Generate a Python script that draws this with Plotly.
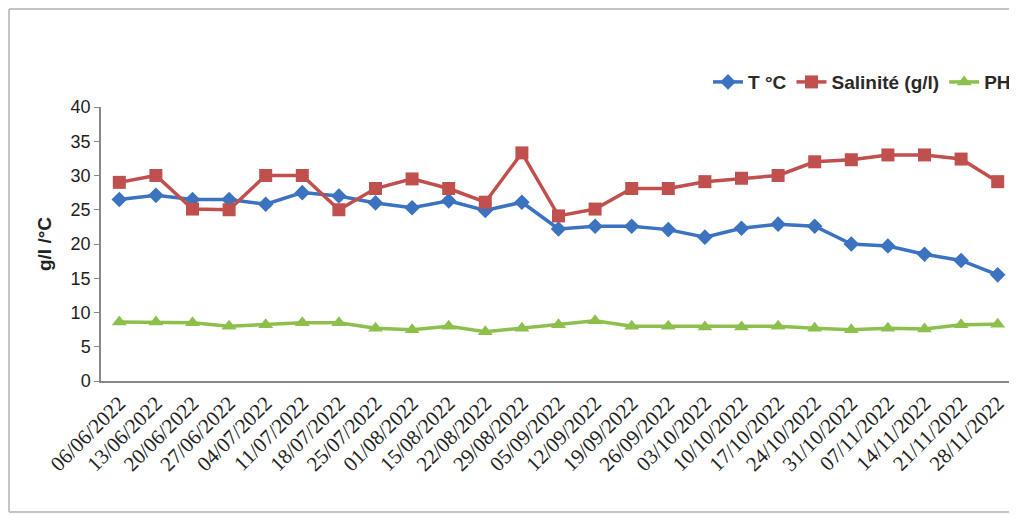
import plotly.graph_objects as go

dates = ["06/06/2022", "13/06/2022", "20/06/2022", "27/06/2022", "04/07/2022",
         "11/07/2022", "18/07/2022", "25/07/2022", "01/08/2022", "15/08/2022",
         "22/08/2022", "29/08/2022", "05/09/2022", "12/09/2022", "19/09/2022",
         "26/09/2022", "03/10/2022", "10/10/2022", "17/10/2022", "24/10/2022",
         "31/10/2022", "07/11/2022", "14/11/2022", "21/11/2022", "28/11/2022"]

temperature = [26.5, 27.1, 26.5, 26.5, 25.8, 27.5, 27.0, 26.0, 25.3, 26.3,
               24.9, 26.1, 22.2, 22.6, 22.6, 22.1, 21.0, 22.3, 22.9, 22.6,
               20.0, 19.7, 18.5, 17.6, 15.5]

salinite = [29.0, 30.0, 25.1, 25.0, 30.0, 30.0, 25.0, 28.1, 29.5, 28.1,
            26.1, 33.3, 24.1, 25.1, 28.1, 28.1, 29.1, 29.6, 30.0, 32.0,
            32.3, 33.0, 33.0, 32.4, 29.1]

ph = [8.6, 8.6, 8.5, 8.0, 8.2, 8.5, 8.5, 7.7, 7.5, 8.0,
      7.2, 7.7, 8.2, 8.8, 8.0, 8.0, 7.9, 7.9, 8.0, 7.7,
      7.5, 7.7, 7.6, 8.2, 8.3]

y_ticks = [0, 5, 10, 15, 20, 25, 30, 35, 40]

fig = go.Figure()
fig.add_trace(go.Scatter(x=dates, y=temperature, name="T °C", mode="lines+markers",
                         line=dict(color="#3b73c0", width=3.5),
                         marker=dict(symbol="diamond", size=12, color="#3b73c0")))
fig.add_trace(go.Scatter(x=dates, y=salinite, name="Salinité (g/l)", mode="lines+markers",
                         line=dict(color="#c0504d", width=3.5),
                         marker=dict(symbol="square", size=13, color="#c0504d")))
fig.add_trace(go.Scatter(x=dates, y=ph, name="PH", mode="lines+markers",
                         line=dict(color="#8dbf4d", width=3.5),
                         marker=dict(symbol="triangle-up", size=13, color="#8dbf4d")))

border = dict(color="#c4c4c4", width=2)
bx0, bx1, by0, by1 = -0.1005, 1.03, -0.478, 1.3577

fig.update_layout(
    width=1017, height=515,
    margin=dict(l=93, r=9, t=99, b=142),
    paper_bgcolor="white", plot_bgcolor="white",
    showlegend=True,
    legend=dict(orientation="h", x=1.0, xanchor="right", y=1.091, yanchor="middle",
                font=dict(family="Liberation Sans", size=19, color="#2a2a2a", weight="bold"),
                itemwidth=30, tracegroupgap=0, bgcolor="rgba(0,0,0,0)"),
    xaxis=dict(type="category", range=[-0.5, len(dates) - 0.5],
               showline=True, linecolor="#888", linewidth=1.5,
               showgrid=False, zeroline=False, ticks="",
               tickangle=-45,
               tickfont=dict(family="Liberation Serif", size=21, color="#222")),
    yaxis=dict(range=[0, 40], tickvals=y_ticks,
               showline=True, linecolor="#888", linewidth=1.5,
               showgrid=False, zeroline=False,
               ticks="outside", ticklen=5, tickcolor="#888",
               tickfont=dict(family="Liberation Sans", size=18, color="#222"),
               title=dict(text="<b>g/l /°C</b>", standoff=14,
                          font=dict(family="Liberation Sans", size=19, color="#222"))),
    shapes=[
        dict(type="line", xref="paper", yref="paper", x0=bx0, x1=bx1, y0=by1, y1=by1, line=border, layer="below"),
        dict(type="line", xref="paper", yref="paper", x0=bx0, x1=bx1, y0=by0, y1=by0, line=border, layer="below"),
        dict(type="line", xref="paper", yref="paper", x0=bx0, x1=bx0, y0=by0, y1=by1, line=border, layer="below"),
    ],
)

fig.write_html("out.html")
